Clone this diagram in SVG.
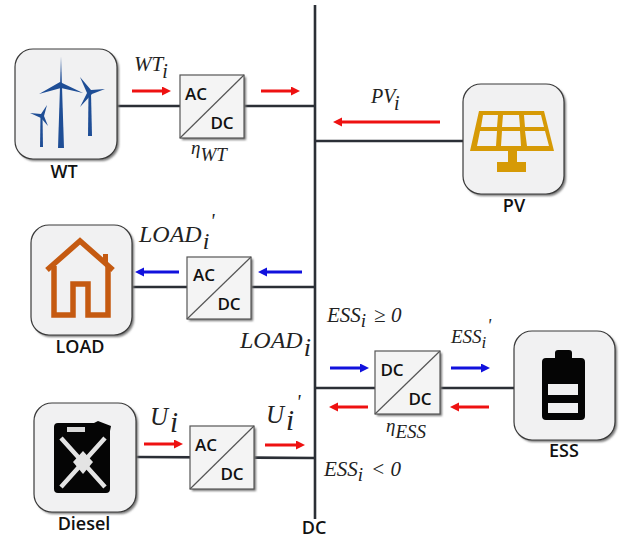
<svg xmlns="http://www.w3.org/2000/svg" width="624" height="542" viewBox="0 0 624 542">
<style>
.node{fill:#f1f1f2;stroke:#3a3a3a;stroke-width:1.2}
.shadow{fill:#777;filter:url(#blur)}
.conv{fill:#f4f4f4;stroke:#555;stroke-width:1.2}
.diag{stroke:#555;stroke-width:1.2}
.wire{stroke:#2b2f36;stroke-width:2.6;fill:none}
.red{stroke:#ee1111;stroke-width:3;fill:none;marker-end:url(#ar)}
.blue{stroke:#1111dd;stroke-width:3;fill:none;marker-end:url(#ab)}
.lb{font-family:"Open Sans","Liberation Sans",sans-serif;font-weight:600;fill:#111;text-anchor:middle;font-size:18px}
.cv{font-family:"Open Sans","Liberation Sans",sans-serif;font-weight:600;fill:#111;text-anchor:middle;font-size:17px}
.m{font-family:"Liberation Serif",serif;font-style:italic;fill:#222}
</style>
<defs>
<filter id="blur" x="-10%" y="-10%" width="120%" height="120%"><feGaussianBlur stdDeviation="1"/></filter>
<marker id="ar" markerUnits="userSpaceOnUse" markerWidth="10" markerHeight="10" refX="2" refY="4.5" orient="auto"><path d="M0 0L9 4.5L0 9z" fill="#ee1111"/></marker>
<marker id="ab" markerUnits="userSpaceOnUse" markerWidth="10" markerHeight="10" refX="2" refY="4.5" orient="auto"><path d="M0 0L9 4.5L0 9z" fill="#1111dd"/></marker>
</defs>

<g id="connectors">
<line class="wire" x1="315" y1="5" x2="315" y2="519"/>
<line class="wire" x1="117" y1="106" x2="315" y2="106"/>
<line class="wire" x1="315" y1="141" x2="463" y2="141"/>
<line class="wire" x1="132" y1="287" x2="315" y2="287"/>
<line class="wire" x1="315" y1="388" x2="514" y2="388"/>
<line class="wire" x1="136" y1="457" x2="315" y2="458"/>
<line class="red" x1="132" y1="91" x2="164" y2="91"/>
<line class="red" x1="261" y1="91" x2="293" y2="91"/>
<line class="red" x1="440" y1="122" x2="340" y2="122"/>
<line class="blue" x1="179" y1="272" x2="142" y2="272"/>
<line class="blue" x1="302" y1="272" x2="265" y2="272"/>
<line class="blue" x1="330" y1="368" x2="362" y2="368"/>
<line class="blue" x1="451" y1="368" x2="483" y2="368"/>
<line class="red" x1="368" y1="407" x2="336" y2="407"/>
<line class="red" x1="489" y1="407" x2="457" y2="407"/>
<line class="red" x1="144" y1="444" x2="176" y2="444"/>
<line class="red" x1="265" y1="445" x2="298" y2="445"/>
</g>

<g id="WT">
<rect class="shadow" x="17" y="51" width="102" height="110" rx="18"/>
<rect class="node" x="15" y="49" width="102" height="110" rx="18"/>
<g fill="#1f4e96">
<path d="M58 148L60 87L61 57L62 87L64 148z"/>
<path d="M39 94L60 82L83 93L61 88z"/>
<path d="M88 136L88.500 93L91 93L92 136z"/>
<path d="M80 77L91 90L105 89L92 94L80 107L87 93z"/>
<path d="M40 147L40.500 116L42.500 116L43 147z"/>
<path d="M30 113L41 114L47 105L44 116L48 126L41 118z"/>
</g>
<text class="lb" x="64" y="178">WT</text>
</g>

<g id="conv-wt">
<rect class="shadow" x="182" y="77" width="64" height="63"/>
<rect class="conv" x="180" y="75" width="64" height="63"/>
<line class="diag" x1="180" y1="138" x2="244" y2="75"/>
<text class="cv" x="196" y="100">AC</text>
<text class="cv" x="222" y="129">DC</text>
</g>

<g id="PV">
<rect class="shadow" x="465" y="86" width="101" height="110" rx="18"/>
<rect class="node" x="463" y="84" width="101" height="110" rx="18"/>
<path fill="#d69a06" fill-rule="evenodd" d="M479 111H544L554 151H517V162H526V172H497V162H508V151H470zM483 115L481 127H497L498 115zM503 115L502 127H520L519 115zM524 115L525 127H544L541 115zM480 131L477 146H496L497 131zM502 131L501 146H521L520 131zM525 131L527 146H549L545 131z"/>
<text class="lb" x="514" y="212">PV</text>
</g>

<g id="LOAD">
<rect class="shadow" x="33" y="227" width="101" height="110" rx="18"/>
<rect class="node" x="31" y="225" width="101" height="110" rx="18"/>
<g fill="none" stroke="#c55a11" stroke-width="5.500">
<path d="M47 270L80 241L113 270"/>
<path d="M54 266V315H73V284H88V315H108V266"/>
</g>
<rect x="103" y="254" width="5" height="9" fill="#c55a11"/>
<text class="lb" x="80" y="353">LOAD</text>
</g>

<g id="conv-load">
<rect class="shadow" x="189" y="259" width="64" height="62"/>
<rect class="conv" x="187" y="257" width="64" height="62"/>
<line class="diag" x1="187" y1="319" x2="251" y2="257"/>
<text class="cv" x="204" y="281">AC</text>
<text class="cv" x="229" y="310">DC</text>
</g>

<g id="Diesel">
<rect class="shadow" x="36" y="405" width="102" height="109" rx="18"/>
<rect class="node" x="34" y="403" width="102" height="109" rx="18"/>
<path fill="#050505" d="M58 423H94L98 421L111 426L110 431V489Q110 493 106 493H58Q54 493 54 489V427Q54 423 58 423z"/>
<rect x="67" y="427" width="18" height="5" fill="#d8d8d8"/>
<path stroke="#e4e4e4" stroke-width="4.500" fill="none" d="M61 438L105 487M105 438L61 487"/>
<path fill="#e4e4e4" d="M83 451L93 462L83 474L73 462z"/>
<text class="lb" x="84" y="530">Diesel</text>
</g>

<g id="conv-diesel">
<rect class="shadow" x="192" y="428" width="64" height="63"/>
<rect class="conv" x="190" y="426" width="64" height="63"/>
<line class="diag" x1="190" y1="489" x2="254" y2="426"/>
<text class="cv" x="206" y="451">AC</text>
<text class="cv" x="232" y="480">DC</text>
</g>

<g id="conv-ess">
<rect class="shadow" x="377" y="353" width="65" height="63"/>
<rect class="conv" x="375" y="351" width="65" height="63"/>
<line class="diag" x1="375" y1="414" x2="440" y2="351"/>
<text class="cv" x="392" y="376">DC</text>
<text class="cv" x="420" y="405">DC</text>
</g>

<g id="ESS">
<rect class="shadow" x="516" y="333" width="101" height="109" rx="18"/>
<rect class="node" x="514" y="331" width="101" height="109" rx="18"/>
<path fill="#050505" fill-rule="evenodd" d="M558 350H569Q572 350 572 353V358H581Q585 358 585 362V416Q585 420 581 420H546Q542 420 542 416V362Q542 358 546 358H555V353Q555 350 558 350zM548 384V395H578V384zM548 403V413H578V403z"/>
<text class="lb" x="564" y="457">ESS</text>
</g>

<g id="labels">
<text class="lb" x="314" y="534">DC</text>
<text class="m" x="134" y="71" font-size="21">WT<tspan font-size="20" dx="-1" dy="7">i</tspan></text>
<text class="m" x="191" y="154" font-size="19">η<tspan dy="7" font-size="19">WT</tspan></text>
<text class="m" x="371" y="103" font-size="20">PV<tspan font-size="20" dy="7">i</tspan></text>
<text class="m" x="139" y="242" font-size="24">LOAD<tspan font-size="24" dx="1" dy="7">i</tspan><tspan font-size="20" dx="1" dy="-21">'</tspan></text>
<text class="m" x="240" y="348" font-size="24">LOAD<tspan font-size="26" dx="1" dy="8">i</tspan></text>
<text class="m" x="327" y="322" font-size="21">ESS<tspan font-size="19" dy="5">i</tspan><tspan dx="8" dy="-5" font-size="21">≥ 0</tspan></text>
<text class="m" x="451" y="343" font-size="19">ESS<tspan font-size="17" dy="5">i</tspan><tspan font-size="18" dx="1" dy="-16">'</tspan></text>
<text class="m" x="386" y="432" font-size="19">η<tspan dy="6" font-size="19">ESS</tspan></text>
<text class="m" x="324" y="476" font-size="21">ESS<tspan font-size="19" dy="5">i</tspan><tspan font-size="21" dx="8" dy="-5">&lt; 0</tspan></text>
<text class="m" x="150" y="425" font-size="25">U<tspan font-size="29" dx="2" dy="7">i</tspan></text>
<text class="m" x="266" y="423" font-size="25">U<tspan font-size="29" dx="2" dy="7">i</tspan><tspan font-size="20" dx="2" dy="-21">'</tspan></text>
</g>
</svg>
